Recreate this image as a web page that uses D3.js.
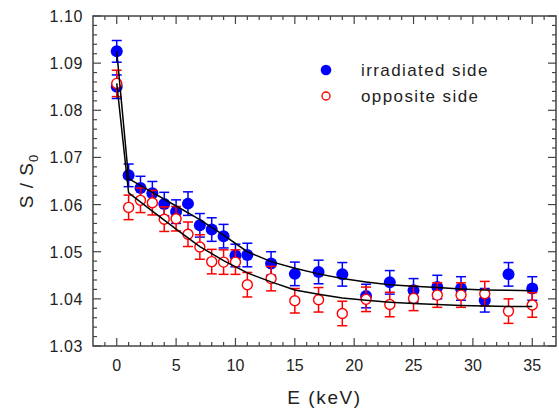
<!DOCTYPE html>
<html>
<head>
<meta charset="utf-8">
<script src="https://cdn.jsdelivr.net/npm/d3@7"></script>
<style>
  body { margin: 0; background: #fff; }
  text { font-family: "Liberation Sans", Arial, Helvetica, sans-serif; fill: #222; }
</style>
</head>
<body>
<div id="container"></div>
<script>
/* DATA */
const irradiatedE = [0, 0, 1, 2, 3, 4, 5, 6, 7, 8, 9, 10, 11, 13, 15, 17, 19, 21, 23, 25, 27, 29, 31, 33, 35]
const irradiated = [1.0925, 1.0850, 1.0662, 1.0635, 1.0624, 1.0601, 1.0585, 1.0602, 1.0556, 1.0547, 1.0533, 1.0492, 1.0493,
  1.0475, 1.0453, 1.0457, 1.0452, 1.0406, 1.0435, 1.0418, 1.0425, 1.0422, 1.0397, 1.0452, 1.0422]
const irradiatedErr = [0.0023, 0.0025, 0.0024, 0.0025, 0.0025, 0.0025, 0.0025, 0.0025, 0.0025, 0.0025, 0.0025, 0.0024, 0.0025,
  0.0025, 0.0025, 0.0025, 0.0025, 0.0025, 0.0025, 0.0025, 0.0025, 0.0025, 0.0025, 0.0025, 0.0025]

const oppositeE = [0, 1, 2, 3, 4, 5, 6, 7, 8, 9, 10, 11, 13, 15, 17, 19, 21, 23, 25, 27, 29, 31, 33, 35]
const opposite = [1.0857, 1.0594, 1.0609, 1.0604, 1.0569, 1.0570, 1.0537, 1.0510, 1.0479, 1.0478, 1.0478, 1.0430,
  1.0443, 1.0396, 1.0398, 1.0369, 1.0399, 1.0388, 1.0401, 1.0408, 1.0408, 1.0411, 1.0374, 1.0387]
const oppositeErr = [0.0028, 0.0026, 0.0026, 0.0026, 0.0026, 0.0026, 0.0026, 0.0026, 0.0026, 0.0026, 0.0026, 0.0026,
  0.0026, 0.0026, 0.0026, 0.0026, 0.0026, 0.0026, 0.0026, 0.0026, 0.0026, 0.0026, 0.0026, 0.0026]

// fitted curves
const fitE = [0, 1, 3, 5, 7, 9, 11, 13, 15, 17, 19, 21, 23, 25, 27, 29, 31, 33, 35]
const fitIrradiated = [1.0925, 1.0655, 1.0626, 1.0597, 1.0568, 1.0535, 1.0500, 1.0479, 1.0465, 1.0453, 1.0443, 1.0436,
  1.0430, 1.0427, 1.0424, 1.0421, 1.0419, 1.0418, 1.0417]
const fitOpposite = [1.0857, 1.0625, 1.0586, 1.0548, 1.0511, 1.0481, 1.0455, 1.0436, 1.0419, 1.0410, 1.0402, 1.0397,
  1.0393, 1.0390, 1.0388, 1.0386, 1.0385, 1.0384, 1.0384]

const xTicks = [0, 5, 10, 15, 20, 25, 30, 35]
const yTicks = [1.03, 1.04, 1.05, 1.06, 1.07, 1.08, 1.09, 1.10]
const legendLabels = ["irradiated side", "opposite side"]

/* CONSTANTS */
const width = 559, height = 409
const margin = { top: 16, right: 3, bottom: 63, left: 93 }
const blue = "#0000ff", red = "#ff0000", frame = "#444"

const xScale = d3.scaleLinear().domain([-2, 37]).range([margin.left, width - margin.right])
const yScale = d3.scaleLinear().domain([1.03, 1.10]).range([height - margin.bottom, margin.top])

const svg = d3.select("#container").append("svg")
  .attr("width", width)
  .attr("height", height)

const x0 = margin.left, x1 = width - margin.right
const y0 = height - margin.bottom, y1 = margin.top

// TICKS (inward, all four sides)
const xMinor = d3.range(-1, 37, 1)
const yMinor = d3.range(1.03, 1.1001, 0.002)
const tickG = svg.append("g").attr("stroke", frame).attr("stroke-width", 1.2)
xMinor.forEach(v => {
  const len = xTicks.includes(v) ? 8 : 4
  const px = xScale(v)
  tickG.append("line").attr("x1", px).attr("x2", px).attr("y1", y0).attr("y2", y0 - len)
  tickG.append("line").attr("x1", px).attr("x2", px).attr("y1", y1).attr("y2", y1 + len)
})
yMinor.forEach((v, i) => {
  const len = i % 5 === 0 ? 8 : 4
  const py = yScale(v)
  tickG.append("line").attr("x1", x0).attr("x2", x0 + len).attr("y1", py).attr("y2", py)
  tickG.append("line").attr("x1", x1).attr("x2", x1 - len).attr("y1", py).attr("y2", py)
})

// FRAME
svg.append("rect")
  .attr("x", x0).attr("y", y1)
  .attr("width", x1 - x0).attr("height", y0 - y1)
  .attr("fill", "none").attr("stroke", frame).attr("stroke-width", 1.5)

// TICK LABELS
svg.append("g").selectAll("text")
  .data(xTicks)
  .join("text")
  .attr("x", d => xScale(d))
  .attr("y", 371)
  .attr("text-anchor", "middle")
  .attr("font-size", 16)
  .text(d => d)

svg.append("g").selectAll("text")
  .data(yTicks)
  .join("text")
  .attr("x", 83)
  .attr("y", d => yScale(d) + 6)
  .attr("text-anchor", "end")
  .attr("font-size", 16)
  .attr("letter-spacing", 0.6)
  .text(d => d.toFixed(2))

// AXIS LABELS
svg.append("text")
  .attr("x", (x0 + x1) / 2)
  .attr("y", 404)
  .attr("text-anchor", "middle")
  .attr("font-size", 19)
  .attr("letter-spacing", 1.6)
  .text("E (keV)")

const yLabel = svg.append("text")
  .attr("transform", `translate(${33}, ${(y0 + y1) / 2}) rotate(-90)`)
  .attr("text-anchor", "middle")
  .attr("font-size", 19)
  .attr("letter-spacing", 1)
yLabel.append("tspan").text("S / S")
yLabel.append("tspan").attr("font-size", 13).attr("dy", 5).text("0")

// SERIES
function drawSeries(es, vs, errs, color, filled, r) {
  const pts = es.map((e, i) => ({ e, v: vs[i], err: errs[i] }))
  const g = svg.append("g")
  const bars = g.selectAll(".err").data(pts).join("g")
    .attr("stroke", color).attr("stroke-width", 1.5)
  bars.append("line")
    .attr("x1", d => xScale(d.e)).attr("x2", d => xScale(d.e))
    .attr("y1", d => yScale(d.v - d.err)).attr("y2", d => yScale(d.v + d.err))
  bars.append("line")
    .attr("x1", d => xScale(d.e) - 5).attr("x2", d => xScale(d.e) + 5)
    .attr("y1", d => yScale(d.v + d.err)).attr("y2", d => yScale(d.v + d.err))
  bars.append("line")
    .attr("x1", d => xScale(d.e) - 5).attr("x2", d => xScale(d.e) + 5)
    .attr("y1", d => yScale(d.v - d.err)).attr("y2", d => yScale(d.v - d.err))
  g.selectAll("circle").data(pts).join("circle")
    .attr("cx", d => xScale(d.e))
    .attr("cy", d => yScale(d.v))
    .attr("r", r)
    .attr("fill", filled ? color : "#fff")
    .attr("stroke", filled ? "none" : color)
    .attr("stroke-width", 1.4)
}

drawSeries(irradiatedE, irradiated, irradiatedErr, blue, true, 6)
drawSeries(oppositeE, opposite, oppositeErr, red, false, 5)

// FIT LINES
const lineGen = d3.line()
  .x(d => xScale(d[0]))
  .y(d => yScale(d[1]))

svg.selectAll(".fit")
  .data([fitIrradiated, fitOpposite])
  .join("path")
  .attr("class", "fit")
  .attr("d", d => lineGen(d.map((v, i) => [fitE[i], v])))
  .attr("fill", "none")
  .attr("stroke", "#000")
  .attr("stroke-width", 1.5)

// LEGEND
const legend = svg.append("g")
legend.append("circle").attr("cx", 326).attr("cy", 70).attr("r", 5.3).attr("fill", blue)
legend.append("circle").attr("cx", 326).attr("cy", 96).attr("r", 4)
  .attr("fill", "#fff").attr("stroke", red).attr("stroke-width", 1.4)
legend.selectAll("text")
  .data(legendLabels)
  .join("text")
  .attr("x", 361)
  .attr("y", (d, i) => 76 + i * 26)
  .attr("font-size", 17)
  .attr("letter-spacing", 1.4)
  .text(d => d)
</script>
</body>
</html>
